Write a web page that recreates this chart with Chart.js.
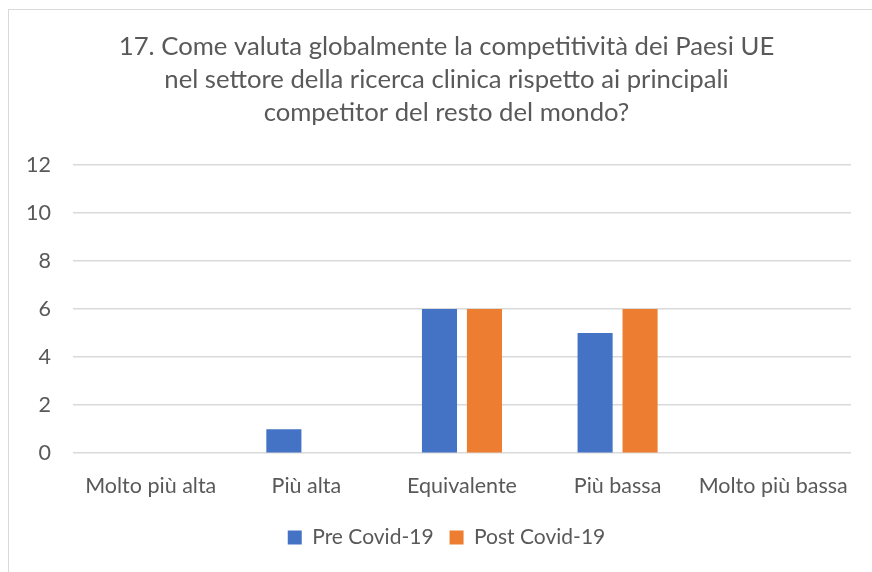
<!doctype html>
<html lang="it">
  <head>
    <meta charset="utf-8">
    <title>17. Competitività UE</title>
    <script src="https://cdn.jsdelivr.net/npm/chart.js@4.4.0/dist/chart.umd.min.js"></script>
    <style>
      body { margin: 0; background: #ffffff; overflow: hidden; }
      #frame {
        position: absolute; left: 8px; top: 9px; width: 880px; height: 580px;
        border-left: 1px solid #d9d9d9; border-top: 1px solid #d9d9d9;
      }
      #wrap { position: absolute; left: 0; top: 0; width: 890px; height: 572px; }
    </style>
  </head>
  <body>
    <div id="frame"></div>
    <div id="wrap"><canvas id="chart"></canvas></div>
    <script>
      // data
      var categories = ['Molto più alta', 'Più alta', 'Equivalente', 'Più bassa', 'Molto più bassa'];
      var preCovid = [0, 1, 6, 5, 0];
      var postCovid = [0, 0, 6, 6, 0];
      var titleLines = [
        '17. Come valuta globalmente la competitività dei Paesi UE',
        'nel settore della ricerca clinica rispetto ai principali',
        'competitor del resto del mondo?'
      ];

      var fontFam = 'Lato, "Open Sans", sans-serif';
      var grey = '#595959';

      const config = {
        type: 'bar',
        data: {
          labels: categories,
          datasets: [{
            label: 'Pre Covid-19',
            backgroundColor: '#4472C4',
            data: preCovid
          },
          {
            label: 'Post Covid-19',
            backgroundColor: '#ED7D31',
            data: postCovid
          }]
        },
        options: {
          responsive: true,
          maintainAspectRatio: false,
          animation: false,
          datasets: {
            bar: { categoryPercentage: 0.578, barPercentage: 0.78 }
          },
          layout: {
            padding: { left: 4, right: 1, top: 9, bottom: 14 }
          },
          plugins: {
            title: {
              display: true,
              text: titleLines,
              color: grey,
              font: { family: fontFam, size: 25.7, weight: 'normal', lineHeight: 1.28 },
              padding: { top: 21, bottom: 36 }
            },
            legend: {
              position: 'bottom',
              labels: {
                color: grey,
                font: { family: fontFam, size: 21 },
                boxWidth: 14,
                boxHeight: 14,
                padding: 16
              }
            },
            tooltip: { enabled: false }
          },
          scales: {
            x: {
              grid: { display: false },
              border: { display: false },
              ticks: { color: grey, font: { family: fontFam, size: 21.5 }, padding: 12, maxRotation: 0 }
            },
            y: {
              min: 0,
              max: 12,
              ticks: { stepSize: 2, color: grey, font: { family: fontFam, size: 21.5 }, padding: 22 },
              grid: { color: '#d9d9d9', lineWidth: 1.5, drawTicks: false },
              border: { display: false }
            },
            // empty spacer on the right so title/legend centre like the original
            spacer: {
              position: 'right',
              grid: { display: false },
              border: { display: false },
              ticks: { display: false },
              afterFit: function(scale) { scale.width = 38; }
            }
          }
        }
      };

      new Chart(document.getElementById('chart'), config);
    </script>
  </body>
</html>
